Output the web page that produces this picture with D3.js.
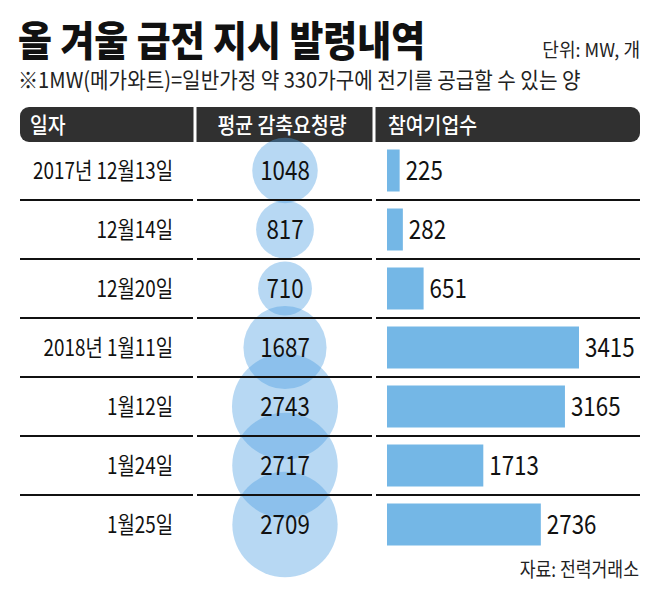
<!DOCTYPE html>
<html>
<head>
<meta charset="utf-8">
<script src="https://cdn.jsdelivr.net/npm/d3@7"></script>
<style>
  html, body { margin: 0; padding: 0; background: #fff; }
  svg { display: block; font-family: "Noto Sans CJK KR", "Noto Sans", sans-serif; }
</style>
</head>
<body>
<div id="chart"></div>
<script>
// 급전 지시 발령내역 데이터
const 일자 = ['2017년 12월13일', '12월14일', '12월20일', '2018년 1월11일', '1월12일', '1월24일', '1월25일'];
const 감축요청량 = [1048, 817, 710, 1687, 2743, 2717, 2709];
const 참여기업수 = [225, 282, 651, 3415, 3165, 1713, 2736];
const 헤더 = ['일자', '평균 감축요청량', '참여기업수'];

const W = 658, H = 595;
const rows = 일자.map((d, i) => ({ 일자: d, 감축: 감축요청량[i], 기업: 참여기업수[i] }));

const svg = d3.select('#chart').append('svg')
  .attr('width', W).attr('height', H);

// 좁은 글꼴 흉내 — 가로 축소
function 글(g, x, y, sx, txt) {
  return g.append('text')
    .attr('transform', `translate(${x},${y}) scale(${sx},1)`)
    .text(txt);
}

// 제목
글(svg, 18, 56, 0.90, '올 겨울 급전 지시 발령내역')
  .attr('font-size', 41).attr('font-weight', 900).attr('fill', '#111');
글(svg, 640, 57, 0.95, '단위: MW, 개')
  .attr('font-size', 19).attr('text-anchor', 'end').attr('fill', '#222');
글(svg, 18, 88, 0.915, '※1MW(메가와트)=일반가정 약 330가구에 전기를 공급할 수 있는 양')
  .attr('font-size', 22).attr('fill', '#222');

// 스케일
const y = d3.scaleBand().domain(일자).range([141, 554]);
const r = d3.scaleSqrt().domain([0, d3.max(감축요청량)]).range([0, 53]);
const x = d3.scaleLinear().domain([0, d3.max(참여기업수)]).range([387, 579]);

const cols = [[20, 193], [197, 372], [376, 640]];
const cx = 285;

// 헤더 바
svg.append('rect').attr('x', 20).attr('y', 107).attr('width', 620).attr('height', 35)
  .attr('rx', 9).attr('fill', '#303030');
[195, 374].forEach(gx => svg.append('rect')
  .attr('x', gx - 1.5).attr('y', 105).attr('width', 3).attr('height', 40).attr('fill', '#fff'));

const hg = svg.append('g').attr('fill', '#fff').attr('font-size', 22).attr('font-weight', 500);
글(hg, 30, 133, 0.88, 헤더[0]);
글(hg, cx - 3, 133, 0.88, 헤더[1]).attr('text-anchor', 'middle');
글(hg, 388, 133, 0.88, 헤더[2]);

// 원 (평균 감축요청량)
svg.append('g').selectAll('circle').data(rows).join('circle')
  .attr('cx', cx)
  .attr('cy', d => y(d.일자) + y.bandwidth() / 2)
  .attr('r', d => r(d.감축))
  .attr('fill', '#4a9ee0').attr('fill-opacity', 0.4);

// 구분선
const seps = rows.slice(0, -1);
const lg = svg.append('g').attr('stroke', '#111').attr('stroke-width', 2);
cols.forEach(([a, b]) => {
  lg.selectAll(null).data(seps).join('line')
    .attr('x1', a).attr('x2', b)
    .attr('y1', d => y(d.일자) + y.bandwidth())
    .attr('y2', d => y(d.일자) + y.bandwidth());
});

// 막대 (참여기업수)
svg.append('g').selectAll('rect').data(rows).join('rect')
  .attr('x', x(0))
  .attr('y', d => y(d.일자) + y.bandwidth() / 2 - 21)
  .attr('width', d => x(d.기업) - x(0))
  .attr('height', 42)
  .attr('fill', '#74b7e6');

// 텍스트
const tg = svg.append('g').attr('fill', '#111');
rows.forEach(d => {
  const cy = y(d.일자) + y.bandwidth() / 2;
  글(tg, 173, cy + 8, 0.82, d.일자).attr('font-size', 23).attr('text-anchor', 'end');
  글(tg, cx, cy + 9, 0.86, d3.format('d')(d.감축)).attr('font-size', 26).attr('text-anchor', 'middle');
  글(tg, x(d.기업) + 6, cy + 9, 0.86, d3.format('d')(d.기업)).attr('font-size', 26);
});

// 출처
글(svg, 639, 577, 0.86, '자료: 전력거래소')
  .attr('font-size', 20).attr('text-anchor', 'end').attr('fill', '#222');
</script>
</body>
</html>
